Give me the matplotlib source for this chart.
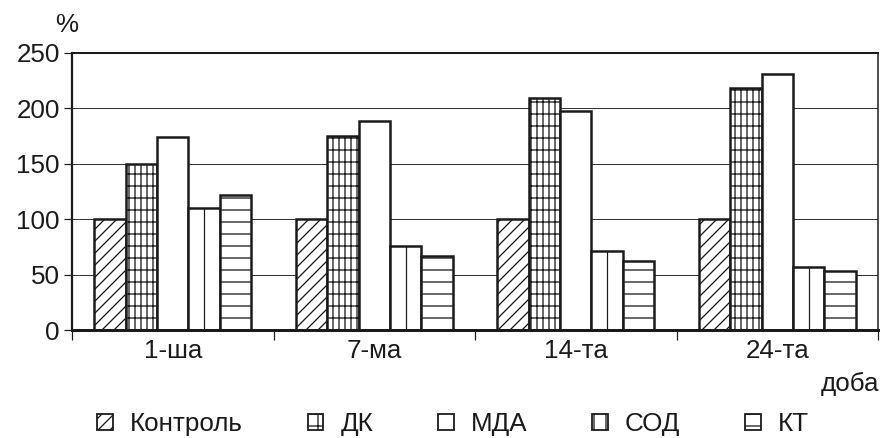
import numpy as np
import matplotlib.pyplot as plt
from matplotlib.patches import Patch
from matplotlib.ticker import FixedLocator, NullFormatter

plt.rcParams['font.family'] = ['Liberation Sans', 'DejaVu Sans']
plt.rcParams['hatch.linewidth'] = 1.3

days = ["1-ша", "7-ма", "14-та", "24-та"]
series = ["Контроль", "ДК", "МДА", "СОД", "КТ"]
control = [100, 100, 100, 100]
dk = [150, 175, 209, 218]
mda = [174, 189, 198, 231]
sod = [110, 76, 71, 57]
kt = [122, 67, 62, 53]

values = [control, dk, mda, sod, kt]
hatches = ["//", "+|", "", "", "-"]
legend_hatches = ["//", "+", "", "|", "-"]

DPI = 72
fig = plt.figure(figsize=(893 / DPI, 438 / DPI), dpi=DPI)
ax = fig.add_axes([72 / 893, (438 - 330) / 438, (878 - 72) / 893, (330 - 53) / 438])

fs = 26
txt = "#1a1a1a"
w = 0.156
x = np.arange(len(days)) + 0.5

for i, (name, vals, h) in enumerate(zip(series, values, hatches)):
    ax.bar(x + (i - 2) * w, vals, w, color="white", edgecolor="#1a1a1a",
           linewidth=2.5, hatch=h, zorder=3)

# СОД: single vertical stroke in the middle of each bar
ax.vlines(x + w, 0, sod, color="#1a1a1a", linewidth=1.2, zorder=4)

ax.set_xlim(0, len(days))
ax.set_ylim(0, 250)
ax.set_yticks([0, 50, 100, 150, 200, 250])
ax.yaxis.grid(True, color="#333333", linewidth=1.0, zorder=0)
ax.tick_params(axis="y", labelsize=fs, length=8, width=1.2, colors="#1a1a1a", pad=4)

ax.xaxis.set_major_locator(FixedLocator(x))
ax.set_xticklabels(days)
ax.xaxis.set_minor_locator(FixedLocator(np.arange(len(days) + 1)))
ax.xaxis.set_minor_formatter(NullFormatter())
ax.tick_params(axis="x", which="major", length=0, labelsize=fs, pad=9, colors="#1a1a1a")
ax.tick_params(axis="x", which="minor", length=10, width=1.2, color="#1a1a1a")

ax.spines["left"].set_linewidth(2.2)
ax.spines["bottom"].set_linewidth(3)
ax.spines["top"].set_linewidth(2)
ax.spines["right"].set_linewidth(1.5)
for s in ax.spines.values():
    s.set_color("#1a1a1a")
    s.set_zorder(5)

fig.text(67 / 893, 1 - 25 / 438, "%", fontsize=fs, color=txt, ha="center", va="center")
fig.text(850 / 893, 1 - 384 / 438, "доба", fontsize=fs, color=txt, ha="center", va="center")

proxies = [Patch(facecolor="white", edgecolor="#1a1a1a", linewidth=1.8, hatch=h, label=n)
           for n, h in zip(series, legend_hatches)]
fig.legend(handles=proxies, loc="center", bbox_to_anchor=(453 / 893, 1 - 424 / 438),
           ncol=5, frameon=False, fontsize=fs, handlelength=0.6, handleheight=0.6,
           handletextpad=0.65, columnspacing=2.5, labelcolor=txt, borderpad=0)

fig.savefig("out.png", dpi=DPI)
